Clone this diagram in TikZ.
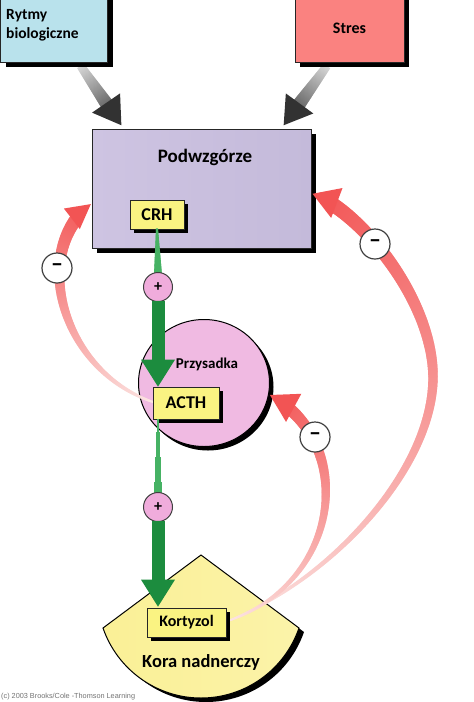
\documentclass[tikz,border=0pt]{standalone}
\usepackage{fontspec}
\setmainfont{Carlito}
\newfontfamily\cpfont{Liberation Sans}
\usetikzlibrary{decorations.markings,shapes.geometric,shadows,calc}
\pgfdeclarelayer{back}
\pgfsetlayers{back,main}
\definecolor{rytblue}{RGB}{185,226,236}
\definecolor{stresred}{RGB}{250,130,128}
\definecolor{lavA}{RGB}{206,196,226}
\definecolor{lavB}{RGB}{240,234,246}
\definecolor{lavC}{RGB}{196,186,218}
\definecolor{boxyel}{RGB}{250,243,130}
\definecolor{pinkA}{RGB}{240,186,226}
\definecolor{pinkB}{RGB}{252,234,246}
\definecolor{plusPink}{RGB}{240,172,220}
\definecolor{koraA}{RGB}{250,240,150}
\definecolor{koraB}{RGB}{255,252,226}
\definecolor{arrRed}{RGB}{242,84,84}
\definecolor{arrPale}{RGB}{252,230,228}
\definecolor{grnDark}{RGB}{28,140,62}
\definecolor{grnLight}{RGB}{70,178,100}
\definecolor{grayLight}{RGB}{215,215,215}
\definecolor{grayDark}{RGB}{50,50,50}
\tikzset{
  taper/.style n args={6}{
    postaction={decorate,decoration={markings,
      mark=between positions 0 and 1 step 0.8pt with {%
        \pgfmathsetmacro\myd{\pgfkeysvalueof{/pgf/decoration/mark info/distance from start}}%
        \pgfmathsetmacro\myL{\pgfdecoratedpathlength}%
        \pgfmathsetmacro\myrem{\myL-\myd-#5}%
        \ifdim\myrem pt>-0.5pt
          \pgfmathsetmacro\myf{\myd/\myL}%
          \pgfmathsetmacro\myw{#1+(#2-#1)*\myf}%
          \pgfmathsetmacro\myc{100*\myf}%
          \draw[line width=\myw pt,color=#4!\myc!#3] (-0.7pt,0pt) -- (0.7pt,0pt);%
        \fi}
    }},
    postaction={decorate,decoration={markings,
      mark=at position 0.996 with {\fill[#4] (0pt,0pt) -- (-#5pt,#6pt) -- (-#5pt,-#6pt) -- cycle;}
    }}
  },
  boxline/.style={draw=black!85, line width=0.8pt},
  shadowA/.style={general shadow={fill=black, shadow xshift=5pt, shadow yshift=-5pt}},
  shadowB/.style={general shadow={fill=black, shadow xshift=4pt, shadow yshift=-4pt}},
  ybox/.style={boxline, fill=boxyel, inner sep=0pt, shadowB},
  pluscirc/.style={circle, draw=black!75, line width=1pt, fill=plusPink, minimum size=29pt, inner sep=0pt, font=\fontsize{16}{16}\selectfont\bfseries},
  minuscirc/.style={circle, draw=black!75, line width=1.2pt, fill=white, minimum size=30pt, inner sep=0pt, font=\fontsize{24}{24}\selectfont\bfseries},
}
\begin{document}
\begin{tikzpicture}[x=1pt,y=-1pt]
\useasboundingbox (0,0) rectangle (474,702);
\begin{pgfonlayer}{back}
\fill[white] (0,0) rectangle (474,702);
\end{pgfonlayer}

% input boxes
\node[boxline, fill=rytblue, minimum width=107pt, minimum height=68pt, shadowA] (rytmy) at (54,28) {};
\node[anchor=west, align=left, inner sep=0pt, font=\fontsize{15.5}{19}\selectfont\bfseries] (rytmyl) at (6,25) {Rytmy\\biologiczne};
\node[boxline, fill=stresred, minimum width=109pt, minimum height=68pt, shadowA, font=\fontsize{16}{16}\selectfont\bfseries] (stres) at (349.5,28) {Stres};

% hypothalamus
\node[boxline, minimum width=219pt, minimum height=119pt, left color=lavA, middle color=lavB, right color=lavC, shadowA] (podw) at (201.5,188.5) {};
\node[font=\fontsize{19}{22}\selectfont\bfseries, inner sep=0pt] (podwl) at (205,157) {Podwzgórze};
\node[ybox, minimum width=54pt, minimum height=29pt, font=\fontsize{18}{18}\selectfont\bfseries] (crh) at (157,214.5) {CRH};

% gray input arrows (behind the boxes)
\begin{pgfonlayer}{back}
\path[taper={8}{16}{grayLight}{grayDark}{27}{17}] ($(rytmy.south east)+(-27,4)$) -- ($(podw.north west)+(30,-3)$);
\path[taper={8}{16}{grayLight}{grayDark}{27}{17}] ($(stres.south west)+(32,4)$) -- ($(podw.north east)+(-28,-3)$);
\end{pgfonlayer}

% pituitary
\node[ellipse, draw=black, line width=1pt, minimum width=131pt, minimum height=127pt, left color=pinkA, middle color=pinkB, right color=pinkA, shadowB] (przys) at (204,383) {};
\node[font=\fontsize{15}{15}\selectfont\bfseries, inner sep=0pt] (przysl) at (207,364) {Przysadka};

% plus 1 and green arrows
\path[taper={2}{8}{grnLight}{grnLight}{0}{0}] (157,229) -- (158,275);
\node[pluscirc] (plus1) at (158,287) {+};
\path[taper={13}{13}{grnDark}{grnDark}{27}{17}] (plus1.south) -- (158,387);

% left feedback arrow
\path[taper={2}{14}{arrPale}{arrRed}{24}{13}] (153,402) .. controls (60,370) and (30,250) .. ($(podw.west)+(0,15)$);

\node[ybox, minimum width=66pt, minimum height=32pt, font=\fontsize{18}{18}\selectfont\bfseries] (acth) at (186,403) {ACTH};

% plus 2
\path[taper={2}{8}{grnLight}{grnLight}{0}{0}] (acth.south -| 158,0) -- (158,495);
\node[pluscirc] (plus2) at (158,507) {+};

% adrenal cortex
\coordinate (ka) at (201,555);
\coordinate (kl) at (103,628);
\coordinate (kr) at (299,628);
\coordinate (kb) at (201,698);
\fill[black] ($(ka)+(5,4)$) -- ($(kr)+(5,4)$) .. controls ($(284.5,669.9)+(5,4)$) and ($(245.3,698)+(5,4)$) .. ($(kb)+(5,4)$) .. controls ($(156.7,698)+(5,4)$) and ($(117.5,669.9)+(5,4)$) .. ($(kl)+(5,4)$) -- cycle;
\path[draw=black, line width=1pt, left color=koraA, middle color=koraB, right color=koraA!75!koraB] (ka) -- (kr) .. controls (284.5,669.9) and (245.3,698) .. (kb) .. controls (156.7,698) and (117.5,669.9) .. (kl) -- cycle;
\node[font=\fontsize{18.5}{20}\selectfont\bfseries, inner sep=0pt] (koral) at (201,662) {Kora nadnerczy};

\path[taper={13}{13}{grnDark}{grnDark}{27}{17}] (plus2.south) -- (158,607);

% right feedback arrows
\path[taper={1.5}{15}{arrPale}{arrRed}{26}{16}] (228,621) .. controls (330,580) and (433,470) .. (433,377) .. controls (433,300) and (360,210) .. ($(podw.east)+(-1,4.5)$);
\path[taper={1.5}{13}{arrPale}{arrRed}{27}{16}] (228,621) .. controls (345,580) and (355,440) .. (przys.-10);

\node[ybox, minimum width=79pt, minimum height=29pt, font=\fontsize{16}{16}\selectfont\bfseries] (kort) at (186.5,622.5) {Kortyzol};

% minus circles
\node[minuscirc] (m1) at (57,268) {–};
\node[minuscirc] (m2) at (375,244) {–};
\node[minuscirc] (m3) at (315,437) {–};

\node[anchor=west, text=black!55, inner sep=0pt, font=\cpfont\fontsize{7.3}{8}\selectfont] (copy) at (1,697) {(c) 2003 Brooks/Cole -Thomson Learning};
\end{tikzpicture}
\end{document}
